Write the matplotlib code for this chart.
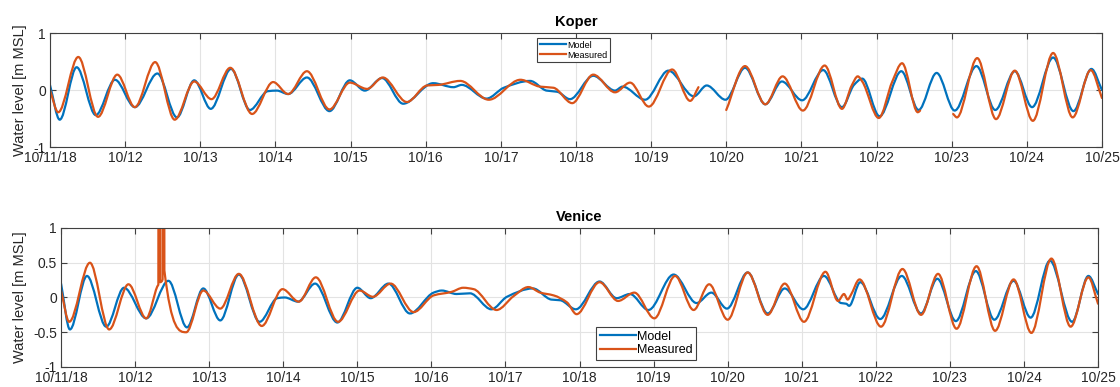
import numpy as np
import matplotlib
matplotlib.use("Agg")
from matplotlib import pyplot as plt
from matplotlib.path import Path
from matplotlib.patches import PathPatch
from matplotlib.lines import Line2D

# water levels [m MSL], knots at highs/lows, time in days from 10/11/18 00:00
# nan marks a gap in the record
koper_model_t = [0.00, 0.13, 0.355, 0.61, 0.865, 1.13, 1.43, 1.69, 1.92, 2.14, 2.41, 2.66,
                 2.90, 3.02, 3.17, 3.42, 3.72, 3.99, 4.19, 4.42, 4.70, 5.10, 5.37, 5.48,
                 5.81, 6.04, 6.39, 6.61, 6.75, 6.92, 7.23, 7.52, 7.62, 7.92, 8.23, 8.57,
                 8.74, 8.99, 9.25, 9.52, 9.74, 10.01, 10.29, 10.54, 10.70, 10.81, 11.04,
                 11.33, 11.56, 11.80, 12.04, 12.33, 12.58, 12.84, 13.07, 13.35, 13.62,
                 13.86, 14.00]
koper_model_v = [0.09, -0.52, 0.40, -0.44, 0.18, -0.30, 0.29, -0.48, 0.17, -0.33, 0.37, -0.35,
                 -0.02, -0.01, -0.07, 0.22, -0.37, 0.17, -0.01, 0.21, -0.24, 0.12, 0.05, 0.09,
                 -0.15, 0.04, 0.16, -0.01, -0.03, -0.16, 0.25, -0.01, 0.06, -0.17, 0.34, -0.11,
                 0.08, -0.17, 0.39, -0.25, 0.15, -0.18, 0.35, -0.30, 0.09, 0.20, -0.46,
                 0.33, -0.35, 0.30, -0.36, 0.42, -0.35, 0.33, -0.30, 0.57, -0.37,
                 0.37, 0.00]

koper_meas_t = [0.00, 0.11, 0.377, 0.64, 0.896, 1.13, 1.40, 1.66, 1.92, 2.15, 2.40, 2.69,
                2.97, 3.17, 3.42, 3.72, 3.99, 4.22, 4.43, 4.75, 5.02, 5.17, 5.46, 5.84,
                6.26, 6.52, 6.70, 6.95, 7.23, 7.52, 7.72, 7.97, 8.28, 8.52, 8.63, 8.80,
                9.00, 9.25, 9.52, 9.75, 10.02, 10.31, 10.54, 10.67, 10.75, 10.81, 11.03,
                11.21, 11.34, 11.55, 11.58, 11.80, 12.02, 12.07, 12.34, 12.59, 12.84,
                13.08, 13.35, 13.61, 13.85, 14.00]
koper_meas_v = [0.00, -0.39, 0.58, -0.47, 0.27, -0.30, 0.49, -0.52, 0.15, -0.16, 0.39, -0.42,
                0.14, -0.07, 0.33, -0.34, 0.13, 0.02, 0.22, -0.21, 0.08, 0.09, 0.16, -0.17,
                0.18, 0.06, 0.04, -0.23, 0.27, -0.04, 0.13, -0.29, 0.36, -0.19, 0.05, np.nan,
                -0.35, 0.42, -0.25, 0.24, -0.36, 0.43, -0.33, 0.08, 0.24, 0.15, -0.49,
                0.15, 0.47, -0.39, -0.36, np.nan, -0.42, -0.48, 0.56, -0.51, 0.34,
                -0.54, 0.65, -0.48, 0.35, -0.14]

venice_model_t = [0.00, 0.12, 0.35, 0.61, 0.85, 1.15, 1.45, 1.70, 1.92, 2.15, 2.40, 2.68,
                  2.92, 3.02, 3.20, 3.43, 3.73, 4.00, 4.18, 4.42, 4.71, 5.03, 5.14, 5.34,
                  5.52, 5.81, 6.02, 6.37, 6.62, 6.74, 6.95, 7.27, 7.50, 7.68, 7.93, 8.27,
                  8.58, 8.78, 8.99, 9.27, 9.54, 9.77, 10.02, 10.30, 10.53, 10.60, 10.64,
                  10.79, 11.06, 11.35, 11.61, 11.83, 12.08, 12.35, 12.60, 12.86, 13.09,
                  13.35, 13.65, 13.87, 14.00]
venice_model_v = [0.20, -0.46, 0.31, -0.42, 0.14, -0.30, 0.24, -0.43, 0.13, -0.33, 0.33, -0.35,
                  -0.01, 0.00, -0.06, 0.20, -0.36, 0.14, -0.01, 0.20, -0.23, 0.07, 0.10, 0.05,
                  0.06, -0.17, 0.01, 0.13, -0.03, -0.04, -0.17, 0.23, -0.01, 0.05, -0.18, 0.33,
                  -0.08, 0.07, -0.16, 0.36, -0.23, 0.13, -0.17, 0.31, -0.08, -0.09, -0.12,
                  0.22, -0.31, 0.31, -0.23, 0.27, -0.34, 0.38, -0.32, 0.24, -0.29,
                  0.53, -0.35, 0.31, 0.05]

venice_meas_t = [0.00, 0.11, 0.39, 0.65, 0.91, 1.15, 1.30, 1.314, 1.316, 1.335, 1.337, 1.371,
                 1.373, 1.393, 1.395, 1.69, 1.92, 2.15, 2.40, 2.71, 2.99, 3.21, 3.44, 3.74,
                 4.03, 4.21, 4.45, 4.76, 5.03, 5.27, 5.43, 5.57, 5.88, 6.11, 6.31, 6.47,
                 6.65, 6.83, 6.96, 7.27, 7.52, 7.74, 8.01, 8.29, 8.54, 8.75, 9.00, 9.27,
                 9.54, 9.77, 10.03, 10.32, 10.49, 10.57, 10.62, 10.66, 10.78, 11.07, 11.36,
                 11.61, 11.84, 12.09, 12.36, 12.61, 12.86, 13.10, 13.37, 13.63, 13.87, 14.00]
venice_meas_v = [0.10, -0.35, 0.50, -0.46, 0.19, -0.30, 0.16, 0.19, 3.0, 3.0, 0.22, 0.26,
                 3.0, 3.0, 0.39, -0.50, 0.10, -0.16, 0.34, -0.41, 0.12, -0.06, 0.29, -0.35,
                 0.10, 0.01, 0.20, -0.21, 0.03, 0.08, 0.14, 0.12, -0.18, 0.02, 0.15, 0.07,
                 0.03, -0.07, -0.24, 0.22, -0.05, 0.07, -0.30, 0.31, -0.18, 0.19, -0.32, 0.36,
                 -0.25, 0.20, -0.35, 0.37, -0.05, 0.05, -0.03, 0.03, 0.26, -0.42, 0.41,
                 -0.25, 0.34, -0.45, 0.45, -0.48, 0.26, -0.51, 0.56, -0.42, 0.29, -0.09]

day_labels = ['10/11/18', '10/12', '10/13', '10/14', '10/15', '10/16', '10/17', '10/18',
              '10/19', '10/20', '10/21', '10/22', '10/23', '10/24', '10/25']

c_model = '#0072BD'
c_meas = '#D95319'

plt.rcParams['font.family'] = ['Liberation Sans', 'DejaVu Sans']


def slopes(t, v):
    # monotone (pchip style) slopes so the curve never overshoots a knot
    h = np.diff(t)
    d = np.diff(v) / h
    m = np.zeros(len(t))
    m[0], m[-1] = d[0], d[-1]
    for k in range(1, len(t) - 1):
        if d[k - 1] * d[k] <= 0:
            m[k] = 0.0
        else:
            w1 = 2 * h[k] + h[k - 1]
            w2 = h[k] + 2 * h[k - 1]
            m[k] = (w1 + w2) / (w1 / d[k - 1] + w2 / d[k])
    return m


def tide_path(t, v):
    t = np.asarray(t, float)
    v = np.asarray(v, float)
    verts, codes = [], []
    ok = ~np.isnan(v)
    idx = np.flatnonzero(ok)
    # split into runs between gaps
    runs = np.split(idx, np.flatnonzero(np.diff(idx) > 1) + 1)
    for r in runs:
        ts, vs = t[r], v[r]
        m = slopes(ts, vs)
        verts.append((ts[0], vs[0]))
        codes.append(Path.MOVETO)
        for i in range(len(ts) - 1):
            h = ts[i + 1] - ts[i]
            verts += [(ts[i] + h / 3, vs[i] + h / 3 * m[i]),
                      (ts[i + 1] - h / 3, vs[i + 1] - h / 3 * m[i + 1]),
                      (ts[i + 1], vs[i + 1])]
            codes += [Path.CURVE4] * 3
    return Path(verts, codes)


def draw(ax, t, v, color):
    ax.add_patch(PathPatch(tide_path(t, v), fill=False, edgecolor=color, lw=1.6,
                           joinstyle='round', capstyle='round'))


def style(ax, yticks, ylabels, title):
    ax.set_xlim(0, 14)
    ax.set_ylim(-1, 1)
    ax.set_xticks(range(15))
    ax.set_xticklabels(day_labels)
    ax.set_yticks(yticks)
    ax.set_yticklabels(ylabels)
    ax.grid(True, color='#e3e3e3', lw=0.8)
    ax.set_axisbelow(True)
    ax.tick_params(direction='in', top=True, right=True, length=4, width=0.8,
                   color='#404040', labelsize=10, labelcolor='#262626', pad=3)
    for s in ax.spines.values():
        s.set_color('#404040')
        s.set_linewidth(0.8)
    ax.set_title(title, fontsize=10.5, fontweight='bold', pad=5)
    ax.set_ylabel('Water level [m MSL]', fontsize=10.5, color='#262626')


fig = plt.figure(figsize=(11.2, 3.87), dpi=100)
ax1 = fig.add_axes([0.0446, 0.620, 0.9393, 0.2947])
ax2 = fig.add_axes([0.0545, 0.0517, 0.9259, 0.3592])

draw(ax1, koper_model_t, koper_model_v, c_model)
draw(ax1, koper_meas_t, koper_meas_v, c_meas)
draw(ax2, venice_model_t, venice_model_v, c_model)
draw(ax2, venice_meas_t, venice_meas_v, c_meas)

style(ax1, [-1, 0, 1], ['-1', '0', '1'], 'Koper')
style(ax2, [-1, -0.5, 0, 0.5, 1], ['-1', '-0.5', '0', '0.5', '1'], 'Venice')
ax1.yaxis.set_label_coords(-0.022, 0.5)
ax2.yaxis.set_label_coords(-0.033, 0.5)

handles = [Line2D([], [], color=c_model, lw=1.6), Line2D([], [], color=c_meas, lw=1.6)]
for ax, anchor, fs in [(ax1, (0.4795, 0.902), 6.5), (ax2, (0.532, 0.155), 9)]:
    leg = ax.legend(handles, ['Model', 'Measured'], loc='upper left', bbox_to_anchor=anchor,
                    bbox_transform=fig.transFigure, fontsize=fs, fancybox=False,
                    framealpha=1, edgecolor='#404040', borderaxespad=0, borderpad=0.3,
                    handlelength=2.9, handletextpad=0.1, labelspacing=0.1)
    leg.get_frame().set_linewidth(0.8)

fig.savefig('out.png', dpi=100)
